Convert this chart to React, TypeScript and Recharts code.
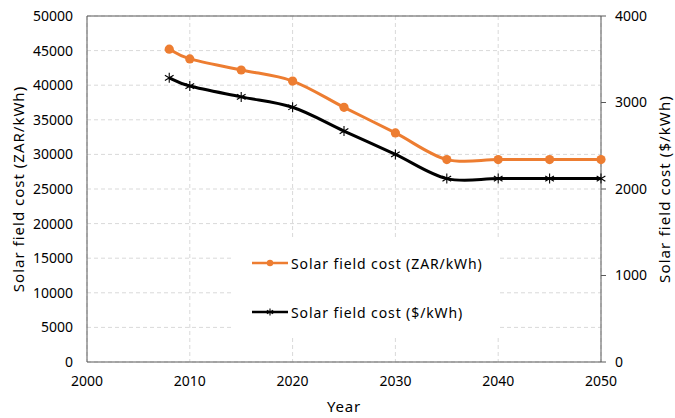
import React from 'react';
import { LineChart, Line, XAxis, YAxis, CartesianGrid, Legend, ReferenceLine, Label } from 'recharts';

const years = [2008, 2010, 2015, 2020, 2025, 2030, 2035, 2040, 2045, 2050];
const zarCost = [45200, 43800, 42200, 40600, 36800, 33100, 29250, 29250, 29250, 29250];
const usdCost = [3285, 3190, 3065, 2945, 2670, 2400, 2120, 2120, 2120, 2120];
const xTicks = [2000, 2010, 2020, 2030, 2040, 2050];
const leftTicks = [0, 5000, 10000, 15000, 20000, 25000, 30000, 35000, 40000, 45000, 50000];
const rightTicks = [0, 1000, 2000, 3000, 4000];

const ZAR_NAME = 'Solar field cost (ZAR/kWh)';
const USD_NAME = 'Solar field cost ($/kWh)';

const data = years.map((y, i) => ({ year: y, zar: zarCost[i], usd: usdCost[i] }));

const FONT = '"Noto Sans", "Open Sans", sans-serif';
const ORANGE = '#ED7D31';
const AXIS = '#595959';

// Excel-like smoothed line (Catmull-Rom through points)
const smoothCurve: any = (context: any) => {
  let pts: number[][] = [];
  return {
    areaStart() {},
    areaEnd() {},
    lineStart() { pts = []; },
    point(x: number, y: number) { pts.push([+x, +y]); },
    lineEnd() {
      if (!pts.length) return;
      context.moveTo(pts[0][0], pts[0][1]);
      for (let i = 0; i < pts.length - 1; i++) {
        const p0 = pts[i - 1] || pts[i];
        const p1 = pts[i];
        const p2 = pts[i + 1];
        const p3 = pts[i + 2] || pts[i + 1];
        const c1x = p1[0] + (p2[0] - p0[0]) / 6;
        const c1y = p1[1] + (p2[1] - p0[1]) / 6;
        const c2x = p2[0] - (p3[0] - p1[0]) / 6;
        const c2y = p2[1] - (p3[1] - p1[1]) / 6;
        context.bezierCurveTo(c1x, c1y, c2x, c2y, p2[0], p2[1]);
      }
    },
  };
};

const Star = (props: any) => {
  const { cx, cy, r = 4.5 } = props;
  if (cx == null || cy == null) return null;
  const d = r * 0.87;
  return (
    <g stroke="#000" strokeWidth={1.1}>
      <line x1={cx} y1={cy - r} x2={cx} y2={cy + r} />
      <line x1={cx - d} y1={cy - d * 0.6} x2={cx + d} y2={cy + d * 0.6} />
      <line x1={cx - d} y1={cy + d * 0.6} x2={cx + d} y2={cy - d * 0.6} />
    </g>
  );
};

const StarDot = (props: any) => <Star cx={props.cx} cy={props.cy} r={5} />;

const LeftTitle = (props: any) => {
  const vb = props.viewBox || {};
  const cx = vb.x + 18;
  const cy = vb.y + vb.height / 2;
  return (
    <text x={cx} y={cy} transform={`rotate(-90 ${cx} ${cy})`} textAnchor="middle" dominantBaseline="central"
      fontFamily={FONT} fontSize={15} letterSpacing={1} fill="#000">{ZAR_NAME}</text>
  );
};

const RightTitle = (props: any) => {
  const vb = props.viewBox || {};
  const cx = vb.x + 63;
  const cy = vb.y + vb.height / 2;
  return (
    <text x={cx} y={cy} transform={`rotate(-90 ${cx} ${cy})`} textAnchor="middle" dominantBaseline="central"
      fontFamily={FONT} fontSize={15} letterSpacing={1.1} fill="#000">{USD_NAME}</text>
  );
};

const BottomTitle = (props: any) => {
  const vb = props.viewBox || {};
  const cx = vb.x + vb.width / 2;
  const cy = vb.y + 44;
  return (
    <text x={cx} y={cy} textAnchor="middle" dominantBaseline="central"
      fontFamily={FONT} fontSize={15} letterSpacing={0.8} fill="#000">Year</text>
  );
};

const LegendContent = () => {
  const items = [
    { name: ZAR_NAME, color: ORANGE, kind: 'circle' },
    { name: USD_NAME, color: '#000', kind: 'star' },
  ];
  return (
    <div style={{ background: '#fff', width: 268, height: 101, position: 'relative' }}>
      {items.map((it, i) => (
        <div key={it.name} style={{ position: 'absolute', left: 20, top: 14 + i * 49, height: 24, display: 'flex', alignItems: 'center' }}>
          <svg width={38} height={12} style={{ display: 'block' }}>
            <line x1={0} y1={6} x2={36} y2={6} stroke={it.color} strokeWidth={2.5} />
            {it.kind === 'circle' ? <circle cx={18} cy={6} r={3.2} fill={ORANGE} /> : <Star cx={18} cy={6} r={3.6} />}
          </svg>
          <span style={{ fontFamily: FONT, fontSize: 14, letterSpacing: 0.9, color: '#000', whiteSpace: 'nowrap', marginLeft: 1 }}>{it.name}</span>
        </div>
      ))}
    </div>
  );
};

export default function App() {
  return (
    <div style={{ position: 'absolute', left: 0, top: 0, width: 675, height: 418, background: '#fff' }}>
      <LineChart width={675} height={418} data={data} margin={{ top: 16, right: 0, bottom: 0, left: 0 }}>
        <CartesianGrid yAxisId="left" stroke="#d9d9d9" strokeDasharray="4 3" />
        <XAxis dataKey="year" type="number" domain={[2000, 2050]} ticks={xTicks} height={56}
          stroke={AXIS} tickLine={false} tickSize={0} tickMargin={14}
          tick={{ fontFamily: FONT, fontSize: 14, fill: '#000' }}>
          <Label content={BottomTitle} />
        </XAxis>
        <YAxis yAxisId="left" orientation="left" domain={[0, 50000]} ticks={leftTicks} width={87}
          stroke={AXIS} tickLine={false} tickSize={0} tickMargin={14} interval={0}
          tick={{ fontFamily: FONT, fontSize: 14, fill: '#000' }}>
          <Label content={LeftTitle} />
        </YAxis>
        <YAxis yAxisId="right" orientation="right" domain={[0, 4000]} ticks={rightTicks} width={74}
          stroke={AXIS} tickSize={5} tickMargin={9} interval={0}
          tick={{ fontFamily: FONT, fontSize: 14, fill: '#000' }}>
          <Label content={RightTitle} />
        </YAxis>
        <ReferenceLine yAxisId="left" y={50000} stroke={AXIS} strokeWidth={1} />
        <Legend layout="horizontal" verticalAlign="middle" align="center" content={LegendContent}
          wrapperStyle={{ left: 232, top: 237, width: 268, height: 101 }} />
        <Line yAxisId="left" name={ZAR_NAME} dataKey="zar" type={smoothCurve} stroke={ORANGE} strokeWidth={3}
          dot={{ r: 4.6, fill: ORANGE, stroke: ORANGE, strokeWidth: 0 }} isAnimationActive={false} />
        <Line yAxisId="right" name={USD_NAME} dataKey="usd" type={smoothCurve} stroke="#000" strokeWidth={3}
          dot={StarDot} isAnimationActive={false} />
      </LineChart>
    </div>
  );
}
